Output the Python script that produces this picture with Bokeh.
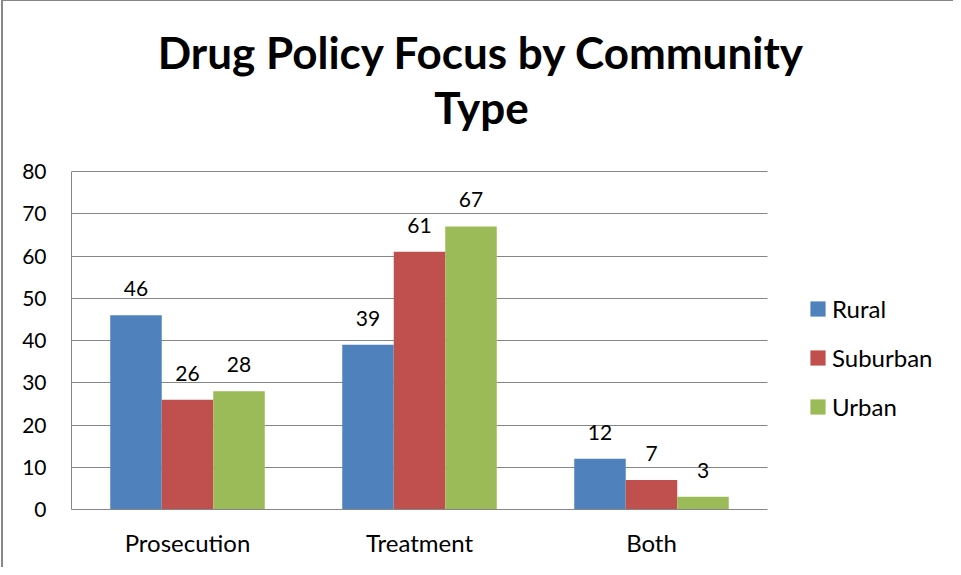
from bokeh.plotting import figure
from bokeh.models import (Range1d, FixedTicker, LabelSet, Label,
                          ColumnDataSource, Legend, LegendItem)
from bokeh.core.properties import value
from bokeh.transform import dodge
from bokeh.embed import file_html
from bokeh.resources import INLINE

# ---- data ----
categories = ["Prosecution", "Treatment", "Both"]
series_names = ["Rural", "Suburban", "Urban"]
rural = [46, 39, 12]
suburban = [26, 61, 7]
urban = [28, 67, 3]
colors = ["#4F81BD", "#C0504D", "#9BBB59"]
y_ticks = [0, 10, 20, 30, 40, 50, 60, 70, 80]
title_lines = ["Drug Policy Focus by Community", "Type"]

FONT = "Lato"

# ---- layout constants (pixels) ----
W, H = 953, 567
LEFT, BOTTOM = 71, 58
PLOT_W, PLOT_H = 696, 338          # area occupied by the axes
FRAME_W, FRAME_H = W - LEFT, H - BOTTOM

n = len(categories)
xs = list(range(1, n + 1))
ymax = y_ticks[-1]
px_per_cat = PLOT_W / n
x_end = 0.5 + FRAME_W / px_per_cat
y_end = ymax * FRAME_H / PLOT_H

src = ColumnDataSource(dict(x=xs, cat=categories, Rural=rural, Suburban=suburban, Urban=urban,
                            Rural_t=[str(v) for v in rural],
                            Suburban_t=[str(v) for v in suburban],
                            Urban_t=[str(v) for v in urban]))

p = figure(width=W, height=H, x_range=Range1d(0.5, x_end), y_range=Range1d(0, y_end),
           output_backend="svg", toolbar_location=None,
           min_border_left=LEFT, min_border_right=0, min_border_top=0, min_border_bottom=BOTTOM)
p.outline_line_color = None
p.background_fill_alpha = 0
p.border_fill_alpha = 0
p.styles = {"background-color": "#ffffff",
            "box-shadow": "inset 1px 0 0 0 #ffffff, inset 3px 1px 0 0 #878787"}

bw = 0.222
offsets = [-bw, 0.0, bw]
renderers = []
for name, col, off in zip(series_names, colors, offsets):
    r = p.vbar(x=dodge("x", off), top=name, width=bw, source=src,
               fill_color=col, line_color=None)
    renderers.append(r)
    lbl = LabelSet(x=dodge("x", off), y=name, text=name + "_t", source=src,
                   text_align="center", text_baseline="alphabetic", y_offset=19,
                   text_font=value(FONT), text_font_size=value("21px"), text_color=value("#000000"))
    p.add_layout(lbl)

GRID = "#868686"
# y axis
p.yaxis.ticker = FixedTicker(ticks=y_ticks)
p.yaxis.bounds = (0, ymax)
p.yaxis.major_tick_out = 0
p.yaxis.major_tick_in = 0
p.yaxis.minor_tick_out = 0
p.yaxis.minor_tick_in = 0
p.yaxis.major_label_standoff = 25
p.yaxis.axis_line_color = GRID
p.yaxis.major_label_text_font = FONT
p.yaxis.major_label_text_font_size = "21px"
p.yaxis.major_label_text_color = "#000000"

# x axis (categories)
p.xaxis.ticker = FixedTicker(ticks=xs)
p.xaxis.major_label_overrides = {x: c for x, c in zip(xs, categories)}
p.xaxis.bounds = (0.5, n + 0.5)
p.xaxis.major_tick_out = 0
p.xaxis.major_tick_in = 0
p.xaxis.minor_tick_out = 0
p.xaxis.minor_tick_in = 0
p.xaxis.major_label_standoff = 18
p.xaxis.axis_line_color = GRID
p.xaxis.major_label_text_font = FONT
p.xaxis.major_label_text_font_size = "24px"
p.xaxis.major_label_text_color = "#000000"

p.xgrid.grid_line_color = None
p.ygrid.ticker = FixedTicker(ticks=y_ticks)
p.ygrid.cross_bounds = (0.5, n + 0.5)
p.ygrid.grid_line_color = GRID
p.ygrid.grid_line_width = 1

# title (two lines), positioned in screen units from the frame's bottom-left
p.add_layout(Label(x=410, y=458, x_units="screen", y_units="screen", text=title_lines[0],
                   text_align="center", text_baseline="alphabetic", text_font=FONT,
                   text_font_style="bold", text_font_size="44px", text_color="#000000"))
p.add_layout(Label(x=410, y=403, x_units="screen", y_units="screen", text=title_lines[1],
                   text_align="center", text_baseline="alphabetic", text_font=FONT,
                   text_font_style="bold", text_font_size="44px", text_color="#000000"))

# legend
items = [LegendItem(label=s, renderers=[r]) for s, r in zip(series_names, renderers)]
legend = Legend(items=items, location=(737, 88), padding=0, margin=0,
                glyph_width=19, glyph_height=19, label_standoff=5, spacing=20,
                label_text_font=FONT, label_text_font_size="24px", label_text_color="#000000",
                border_line_color=None, background_fill_alpha=0)
p.add_layout(legend)

open("out.html", "w").write(file_html(p, INLINE))
